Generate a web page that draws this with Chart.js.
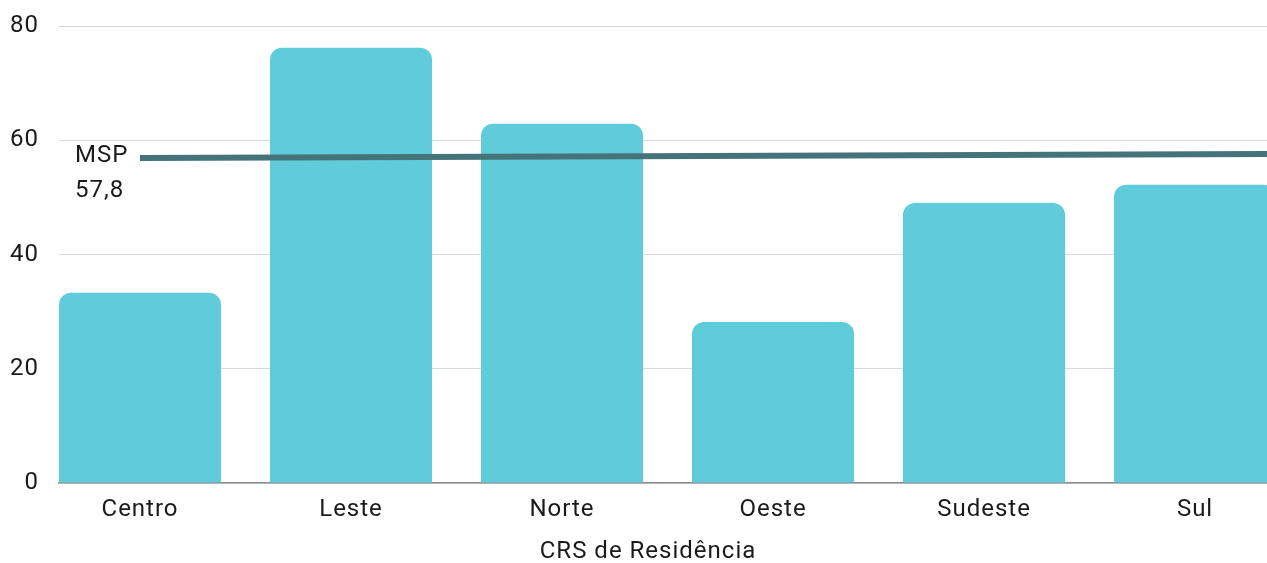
<!DOCTYPE html>
<html lang="pt">
<head>
<meta charset="UTF-8">
<title>CRS de Residência</title>
<script src="https://cdn.jsdelivr.net/npm/chart.js"></script>
<style>
    body { margin: 0; background: #fff; overflow: hidden; }
    #wrap { width: 1267px; height: 563px; position: relative; }
</style>
</head>
<body>
<div id="wrap"><canvas id="myChart"></canvas></div>
<script>
// dados
const categorias = ['Centro', 'Leste', 'Norte', 'Oeste', 'Sudeste', 'Sul'];
const valores = [33.3, 76.2, 62.9, 28.2, 49.0, 52.2];
const yTicks = [0, 20, 40, 60, 80];
const mspX = [0, 6];          // linha de referência (MSP)
const mspY = [56.9, 57.7];
const mspTexto = ['MSP', '57,8'];
const eixoTitulo = 'CRS de Residência';

const corTexto = '#1a1a1a';
const fonte = { family: 'Roboto', size: 24 };

// espaçamento entre letras, como no original
const espacamento = {
    id: 'espacamento',
    beforeDraw(chart) { chart.ctx.letterSpacing = '1px'; }
};

// rótulo MSP e título do eixo x
const textos = {
    id: 'textos',
    afterDraw(chart) {
        const ctx = chart.ctx;
        ctx.save();
        ctx.letterSpacing = '1px';
        ctx.fillStyle = corTexto;
        ctx.font = '24px Roboto';
        ctx.textBaseline = 'middle';
        ctx.textAlign = 'left';
        ctx.fillText(mspTexto[0], 75, 156);
        ctx.fillText(mspTexto[1], 75, 191);
        ctx.textAlign = 'center';
        ctx.fillText(eixoTitulo, 648, 552);
        ctx.restore();
    }
};

let ctx = document.getElementById('myChart').getContext('2d');
let myChart = new Chart(ctx, {
    data: {
        datasets: [{
            type: 'line',
            data: mspX.map((x, i) => ({ x: x, y: mspY[i] })),
            borderColor: '#45737a',
            borderWidth: 6,
            pointRadius: 0,
            order: 0
        }, {
            type: 'bar',
            data: categorias.map((c, i) => ({ x: i, y: valores[i] })),
            backgroundColor: '#60cbda',
            borderRadius: 12,
            borderSkipped: 'start',
            barPercentage: 1,
            categoryPercentage: 0.768,
            order: 1
        }]
    },
    options: {
        responsive: true,
        maintainAspectRatio: false,
        animation: false,
        layout: { padding: { top: 26, right: 0, bottom: 0, left: 0 } },
        plugins: {
            legend: { display: false },
            tooltip: { enabled: false }
        },
        scales: {
            x: {
                type: 'linear',
                offset: false,
                min: -0.384,
                max: 5.341,
                afterBuildTicks: s => { s.ticks = categorias.map((c, i) => ({ value: i })); },
                afterFit: s => { s.height = 80; },
                ticks: {
                    callback: v => categorias[v],
                    autoSkip: false,
                    maxRotation: 0,
                    padding: 13,
                    color: corTexto,
                    font: fonte
                },
                grid: { display: false, drawTicks: false },
                border: { display: true, color: '#8c8c8c', width: 1.5 }
            },
            y: {
                min: 0,
                max: 80,
                afterBuildTicks: s => { s.ticks = yTicks.map(v => ({ value: v })); },
                afterFit: s => { s.width = 59; s.paddingTop = 14; s.paddingBottom = 0; },
                ticks: { padding: 20, color: corTexto, font: fonte },
                grid: { color: '#d9d9d9', drawTicks: false },
                border: { display: false }
            }
        }
    },
    plugins: [espacamento, textos]
});
</script>
</body>
</html>
